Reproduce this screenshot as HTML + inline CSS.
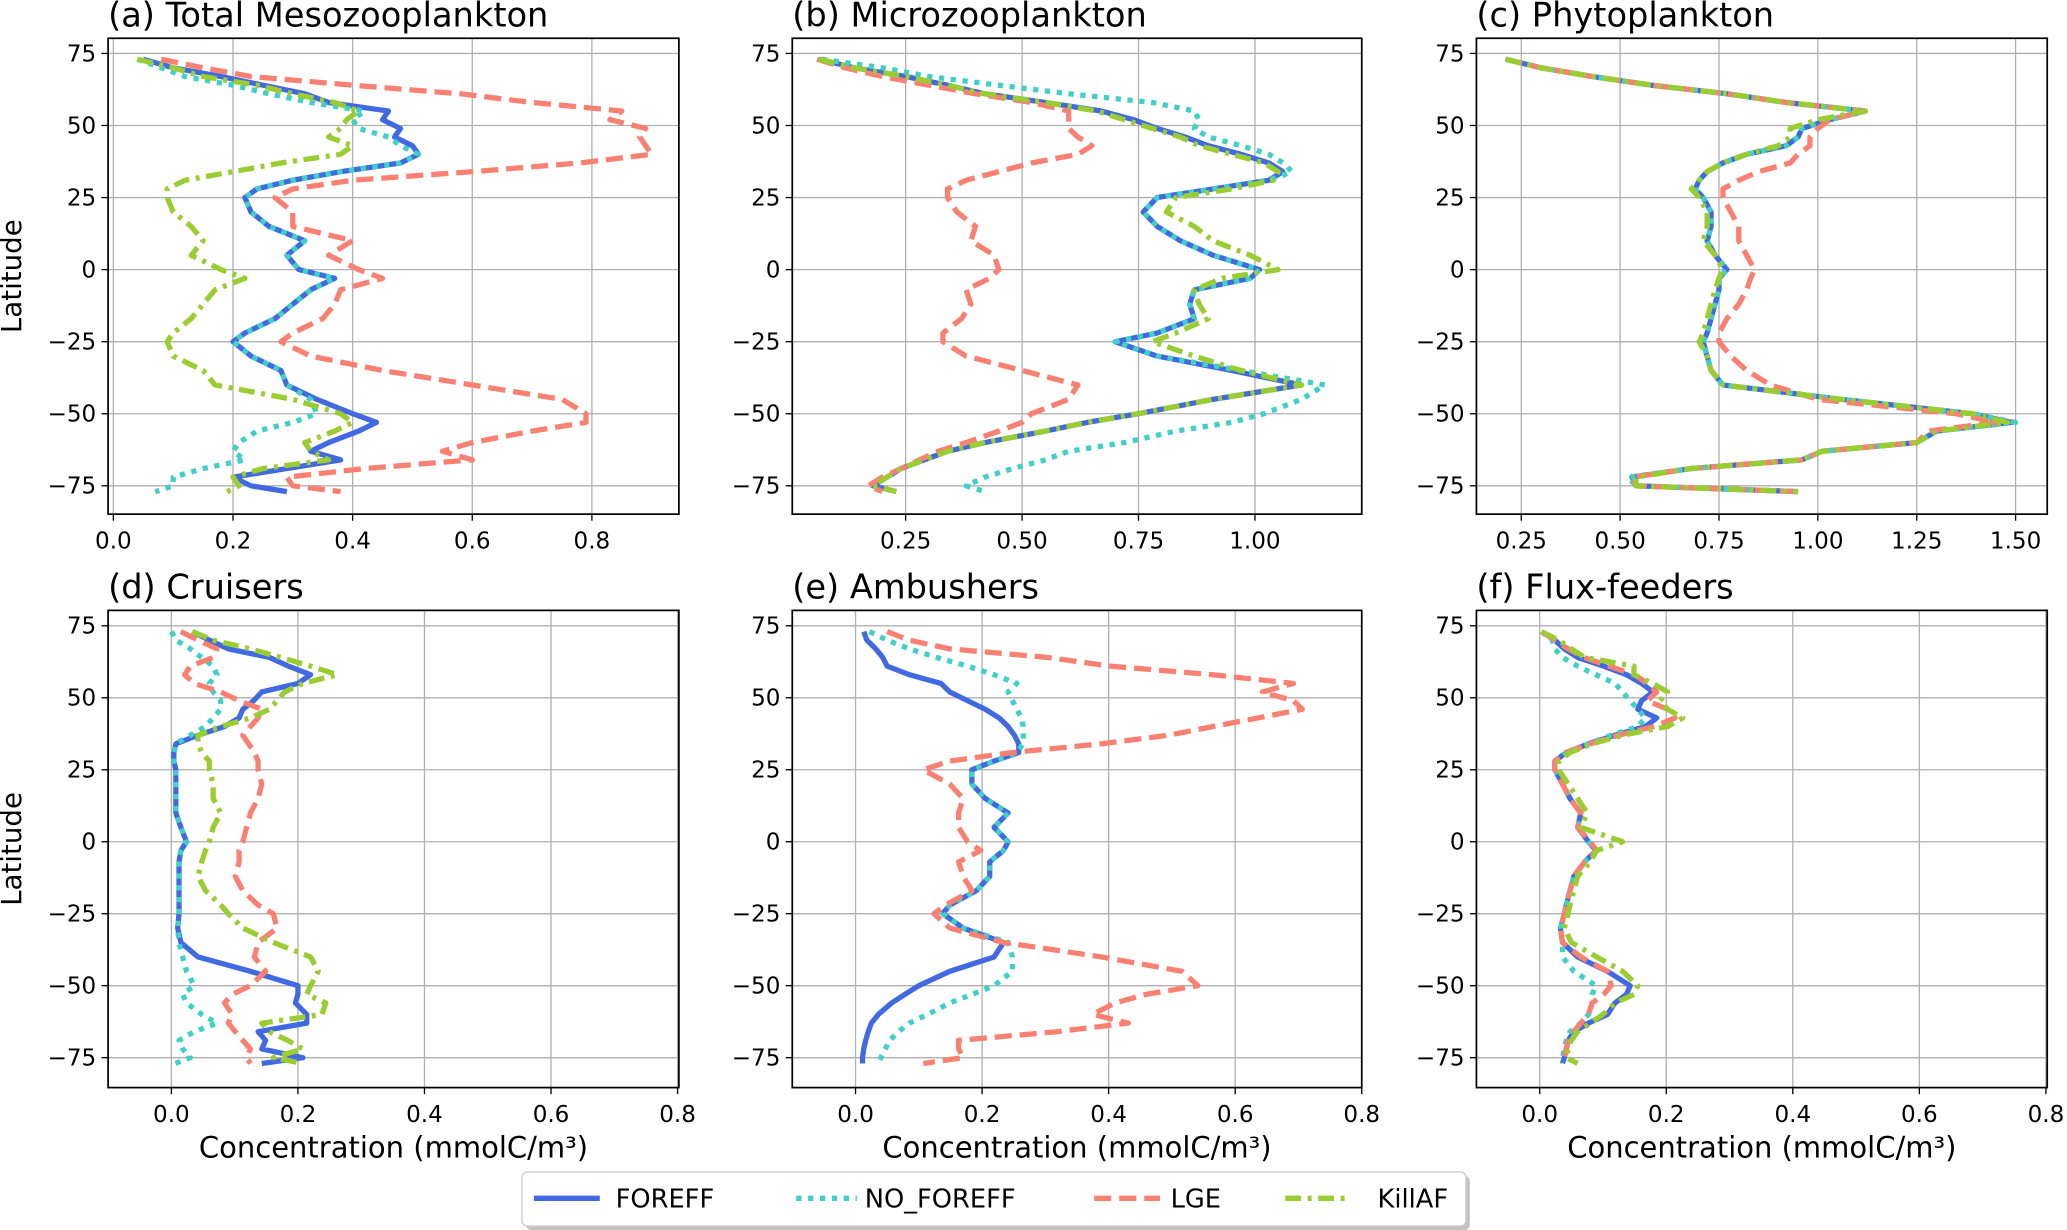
<!DOCTYPE html>
<html><head><meta charset="utf-8"><style>
html,body{margin:0;padding:0;background:#fff;}
svg{display:block;font-family:"DejaVu Sans","Liberation Sans",sans-serif;}
</style></head><body>
<svg id="fig" width="2067" height="1230" viewBox="0 0 1568 933" xmlns="http://www.w3.org/2000/svg">
<g id="panels"></g>
<g>
<rect x="399" y="892" width="716" height="41" rx="4" fill="#888" opacity="0.5"/>
<rect x="396" y="889" width="716" height="41" rx="4" fill="#fff" stroke="#ccc" stroke-width="1"/>
<g><line x1="405" y1="909" x2="455" y2="909" stroke="#4169e1" stroke-width="4"/><text x="467" y="916" font-size="19.5">FOREFF</text></g>
<g><line x1="604" y1="909" x2="650" y2="909" stroke="#40d0c8" stroke-width="4" stroke-dasharray="4,5"/><text x="656" y="916" font-size="19.5">NO_FOREFF</text></g>
<g><line x1="830" y1="909" x2="880" y2="909" stroke="#fa8072" stroke-width="4" stroke-dasharray="13,6"/><text x="888" y="916" font-size="19.5">LGE</text></g>
<g><line x1="975" y1="909" x2="1025" y2="909" stroke="#9acd32" stroke-width="4" stroke-dasharray="12,5,3,5"/><text x="1045" y="916" font-size="19.5">KillAF</text></g>
</g>
</svg>
<script>
const lats = [73,70,67,64,61,58,55,52,49,46,43,40,37,34,31,28,25,20,15,10,5,0,-3,-7,-12,-17,-22,-25,-30,-35,-40,-45,-50,-53,-56,-60,-63,-66,-69,-72,-75,-77];
const yTicks = [75,50,25,0,-25,-50,-75];
const seriesNames = ["FOREFF","NO_FOREFF","LGE","KillAF"];
const panelTitles = ["(a) Total Mesozooplankton","(b) Microzooplankton","(c) Phytoplankton","(d) Cruisers","(e) Ambushers","(f) Flux-feeders"];
const xTicksA = [0,0.2,0.4,0.6,0.8];
const xTicksB = [0.25,0.5,0.75,1.0];
const xTicksC = [0.25,0.5,0.75,1.0,1.25,1.5];
const xTicksLow = [0,0.2,0.4,0.6,0.8];

const A_FOREFF = [.05,.1,.18,.25,.32,.36,.46,.45,.48,.47,.5,.51,.48,.38,.3,.24,.22,.23,.26,.32,.29,.31,.37,.33,.3,.27,.22,.2,.23,.28,.29,.34,.4,.44,.41,.36,.33,.38,.29,.2,.23,.29];
const A_NO = [.04,.08,.12,.2,.26,.33,.42,.4,.41,.46,.48,.51,.48,.38,.3,.24,.22,.23,.26,.32,.29,.31,.37,.33,.3,.27,.22,.2,.23,.28,.29,.33,.34,.3,.24,.21,.2,.22,.15,.1,.1,.07];
const A_LGE = [.08,.15,.23,.4,.58,.7,.85,.83,.89,.88,.89,.9,.78,.6,.4,.3,.27,.3,.3,.4,.36,.41,.45,.38,.37,.35,.3,.28,.33,.45,.6,.75,.79,.79,.7,.6,.55,.6,.42,.29,.3,.38];
const A_KILL = [.04,.1,.15,.24,.3,.37,.41,.39,.38,.36,.4,.38,.28,.2,.12,.09,.09,.1,.13,.15,.13,.18,.22,.17,.15,.13,.1,.09,.1,.15,.17,.3,.38,.4,.37,.32,.33,.36,.25,.2,.21,.19];

const B_FOREFF = [.064,.14,.25,.34,.42,.55,.67,.74,.79,.85,.9,.97,1.03,1.06,1.03,.91,.79,.76,.79,.84,.91,1.01,.99,.87,.86,.87,.79,.70,.79,.95,1.10,.91,.75,.64,.55,.42,.34,.29,.24,.21,.18,.23];
const B_NO = [.07,.2,.3,.45,.6,.78,.87,.88,.87,.9,.97,1.03,1.06,1.08,1.03,.91,.79,.76,.79,.84,.91,1.01,.99,.87,.86,.87,.79,.70,.79,.97,1.15,1.1,1.02,.95,.83,.72,.6,.55,.48,.42,.38,.42];
const B_LGE = [.06,.12,.2,.3,.4,.52,.6,.6,.6,.62,.65,.62,.52,.45,.38,.34,.34,.36,.40,.39,.44,.45,.43,.38,.39,.37,.33,.33,.38,.5,.62,.6,.52,.5,.45,.38,.32,.28,.24,.2,.17,.2];
const B_KILL = [.064,.14,.25,.34,.42,.55,.66,.72,.78,.84,.88,.95,1.02,1.05,1.04,.95,.83,.81,.87,.91,.99,1.05,.93,.87,.88,.9,.83,.78,.87,.97,1.1,.91,.75,.64,.55,.42,.34,.29,.24,.21,.18,.23];

const C_FOREFF = [.21,.3,.43,.58,.77,.92,1.12,1.03,.96,.95,.92,.82,.76,.72,.70,.69,.71,.73,.73,.72,.74,.77,.75,.75,.74,.73,.72,.71,.72,.73,.76,1.06,1.39,1.49,1.30,1.25,1.01,.96,.68,.53,.54,.95];
const C_NO = [.21,.3,.43,.58,.77,.92,1.12,1.03,.96,.95,.92,.82,.76,.72,.70,.69,.71,.73,.73,.72,.74,.77,.75,.75,.74,.73,.72,.71,.72,.73,.76,1.06,1.39,1.5,1.30,1.25,1.01,.96,.68,.52,.54,.95];
const C_LGE = [.21,.3,.43,.58,.77,.92,1.12,1.03,1.0,.98,.98,.95,.93,.85,.8,.76,.76,.78,.8,.8,.82,.84,.83,.82,.8,.77,.75,.75,.78,.82,.88,1.0,1.35,1.45,1.28,1.25,1.01,.96,.68,.53,.54,.95];
const C_KILL = [.21,.3,.43,.58,.77,.92,1.12,1.0,.93,.93,.9,.82,.76,.72,.70,.68,.70,.72,.72,.71,.74,.76,.75,.74,.73,.72,.71,.70,.72,.73,.76,1.06,1.39,1.48,1.30,1.25,1.01,.96,.68,.54,.54,.95];

const D_FOREFF = [.033,.06,.09,.155,.185,.22,.2,.143,.13,.113,.107,.084,.042,.007,.004,.004,.007,.007,.007,.007,.015,.024,.015,.012,.012,.012,.012,.012,.01,.015,.042,.125,.2,.2,.196,.214,.214,.137,.149,.143,.208,.143];
const D_NO = [0,.007,.03,.048,.066,.072,.06,.066,.078,.078,.066,.054,.03,.007,.004,.004,.007,.007,.007,.007,.015,.024,.015,.012,.012,.012,.012,.012,.01,.012,.018,.024,.036,.018,.024,.048,.072,.036,.012,.018,.03,.006];
const D_LGE = [.015,.042,.072,.066,.03,.021,.036,.078,.107,.143,.137,.125,.113,.122,.131,.137,.137,.143,.137,.125,.119,.113,.107,.107,.101,.113,.137,.161,.167,.137,.131,.149,.125,.096,.084,.096,.09,.101,.113,.125,.119,.125];
const D_KILL = [.033,.066,.125,.173,.22,.262,.208,.179,.167,.155,.125,.078,.042,.042,.048,.06,.06,.066,.066,.078,.066,.06,.054,.048,.042,.054,.078,.09,.113,.161,.22,.232,.22,.214,.244,.238,.143,.155,.184,.208,.161,.208];

const E_FOREFF = [.013,.018,.032,.043,.05,.085,.135,.149,.177,.205,.227,.241,.251,.258,.258,.219,.184,.184,.205,.241,.219,.241,.234,.212,.212,.191,.149,.138,.17,.234,.219,.149,.1,.078,.057,.036,.025,.02,.016,.013,.011,.011];
const E_NO = [.022,.05,.085,.128,.177,.219,.255,.241,.248,.255,.262,.265,.265,.265,.255,.219,.184,.184,.205,.241,.219,.241,.234,.212,.212,.191,.149,.138,.17,.241,.248,.248,.219,.184,.149,.114,.085,.068,.054,.047,.04,.036];
const E_LGE = [.05,.085,.149,.304,.403,.565,.692,.643,.692,.706,.636,.565,.495,.389,.248,.149,.107,.149,.17,.163,.163,.177,.198,.163,.17,.184,.142,.124,.149,.234,.389,.516,.541,.459,.41,.375,.431,.318,.163,.163,.17,.107];
const E_KILL = [];

const F_FOREFF = [.003,.024,.039,.06,.101,.137,.161,.179,.161,.155,.185,.167,.119,.077,.042,.024,.024,.036,.048,.065,.06,.077,.089,.071,.054,.048,.042,.039,.033,.036,.06,.107,.143,.137,.119,.107,.077,.054,.045,.042,.039,.036];
const F_NO = [.003,.02,.024,.036,.06,.089,.119,.131,.143,.155,.167,.155,.113,.077,.042,.024,.024,.036,.048,.065,.06,.077,.089,.071,.054,.048,.042,.039,.033,.036,.036,.054,.089,.083,.083,.077,.065,.048,.042,.039,.036,.036];
const F_LGE = [.003,.024,.045,.07,.11,.15,.17,.185,.17,.202,.214,.18,.125,.08,.042,.024,.024,.036,.048,.065,.06,.08,.09,.071,.054,.048,.042,.039,.033,.036,.065,.107,.113,.101,.083,.077,.065,.054,.045,.042,.039,.036];
const F_KILL = [.003,.03,.05,.071,.149,.149,.179,.202,.19,.202,.226,.202,.131,.083,.048,.03,.03,.045,.06,.075,.065,.131,.09,.08,.06,.054,.048,.045,.039,.05,.09,.131,.155,.149,.119,.1,.08,.06,.05,.045,.042,.06];

const NS = "http://www.w3.org/2000/svg";
const root = document.getElementById("panels");
const styles = [
  {c:"#4169e1", d:""},
  {c:"#40d0c8", d:"4,5"},
  {c:"#fa8072", d:"13,6"},
  {c:"#9acd32", d:"12,5,3,5"}
];
const panels = [
  {x0:82,x1:515,y0:29,y1:390,v0:0,p0:86,k:453.75,ticks:xTicksA,yT:40.5,yB:368.5,data:[A_FOREFF,A_NO,A_LGE,A_KILL],dec:1,xl:false},
  {x0:601,x1:1033,y0:29,y1:390,v0:0.25,p0:687,k:353.3,ticks:xTicksB,yT:40.5,yB:368.5,data:[B_FOREFF,B_NO,B_LGE,B_KILL],dec:2,xl:false},
  {x0:1120,x1:1553,y0:29,y1:390,v0:0.25,p0:1154,k:300,ticks:xTicksC,yT:40.5,yB:368.5,data:[C_FOREFF,C_NO,C_LGE,C_KILL],dec:2,xl:false},
  {x0:82,x1:515,y0:463,y1:825,v0:0,p0:130,k:480,ticks:xTicksLow,yT:474.7,yB:802.3,data:[D_FOREFF,D_NO,D_LGE,D_KILL],dec:1,xl:true},
  {x0:601,x1:1033,y0:463,y1:825,v0:0,p0:649,k:480,ticks:xTicksLow,yT:474.7,yB:802.3,data:[E_FOREFF,E_NO,E_LGE,E_KILL],dec:1,xl:true},
  {x0:1120,x1:1553,y0:463,y1:825,v0:0,p0:1168,k:480,ticks:xTicksLow,yT:474.7,yB:802.3,data:[F_FOREFF,F_NO,F_LGE,F_KILL],dec:1,xl:true}
];
function mk(tag, attrs, parent){const e=document.createElementNS(NS,tag);for(const k in attrs)e.setAttribute(k,attrs[k]);parent.appendChild(e);return e;}
const defs = mk("defs",{},root);
panels.forEach((p,i)=>{
  const xs = v => p.p0 + (v - p.v0)*p.k;
  const ys = l => p.yT + (75 - l)*(p.yB - p.yT)/150;
  const g = mk("g",{},root);
  
  
  const cp = mk("clipPath",{id:"cp"+i},defs);
  mk("rect",{x:p.x0,y:p.y0,width:p.x1-p.x0,height:p.y1-p.y0},cp);
  p.ticks.forEach(t=>{
    const ln = mk("line",{x1:xs(t),x2:xs(t),y1:p.y0,y2:p.y1,stroke:"#b0b0b0","stroke-width":1},g);
    
    
  });
  yTicks.forEach(t=>{
    const ln = mk("line",{x1:p.x0,x2:p.x1,y1:ys(t),y2:ys(t),stroke:"#b0b0b0","stroke-width":1},g);
    
    
  });
  const sg = mk("g",{"clip-path":"url(#cp"+i+")"},g);
  p.data.forEach((arr,si)=>{
    if(!arr.length) return;
    const pts = arr.map((v,j)=>xs(v).toFixed(1)+","+ys(lats[j]).toFixed(1)).join(" ");
    const pl = mk("polyline",{points:pts,fill:"none",stroke:styles[si].c,"stroke-width":4,"stroke-linejoin":"round"},sg);
    if(styles[si].d) pl.setAttribute("stroke-dasharray",styles[si].d);
    
    
  });
  const sp = mk("rect",{x:p.x0,y:p.y0,width:p.x1-p.x0,height:p.y1-p.y0,fill:"none",stroke:"#000","stroke-width":1.3},g);
  
  
  p.ticks.forEach(t=>{
    mk("line",{x1:xs(t),x2:xs(t),y1:p.y1,y2:p.y1+5,stroke:"#000","stroke-width":1},g);
    const tx = mk("text",{x:xs(t),y:p.y1+26,"font-size":17.5,"text-anchor":"middle"},g);
    tx.textContent = t.toFixed(p.dec);
    
    
  });
  yTicks.forEach(t=>{
    mk("line",{x1:p.x0-5,x2:p.x0,y1:ys(t),y2:ys(t),stroke:"#000","stroke-width":1},g);
    const tx = mk("text",{x:p.x0-9,y:ys(t)+6,"font-size":17.5,"text-anchor":"end"},g);
    tx.textContent = t < 0 ? "\u2212" + Math.abs(t) : String(t);
    
    
  });
  const ti = mk("text",{x:p.x0,y:p.y0-9,"font-size":25.5},g);
  ti.textContent = panelTitles[i];
  
  
  if(i===0||i===3){
    const cy=(p.y0+p.y1)/2;
    const yl = mk("text",{x:16,y:cy,"font-size":21,"text-anchor":"middle",transform:"rotate(-90 16 "+cy+")"},g);
    yl.textContent = "Latitude";
    
    
  }
  if(p.xl){
    const xl = mk("text",{x:(p.x0+p.x1)/2,y:p.y1+53,"font-size":22,"text-anchor":"middle"},g);
    xl.textContent = "Concentration (mmolC/m\u00b3)";
    
    
  }
});
</script>
</body></html>
